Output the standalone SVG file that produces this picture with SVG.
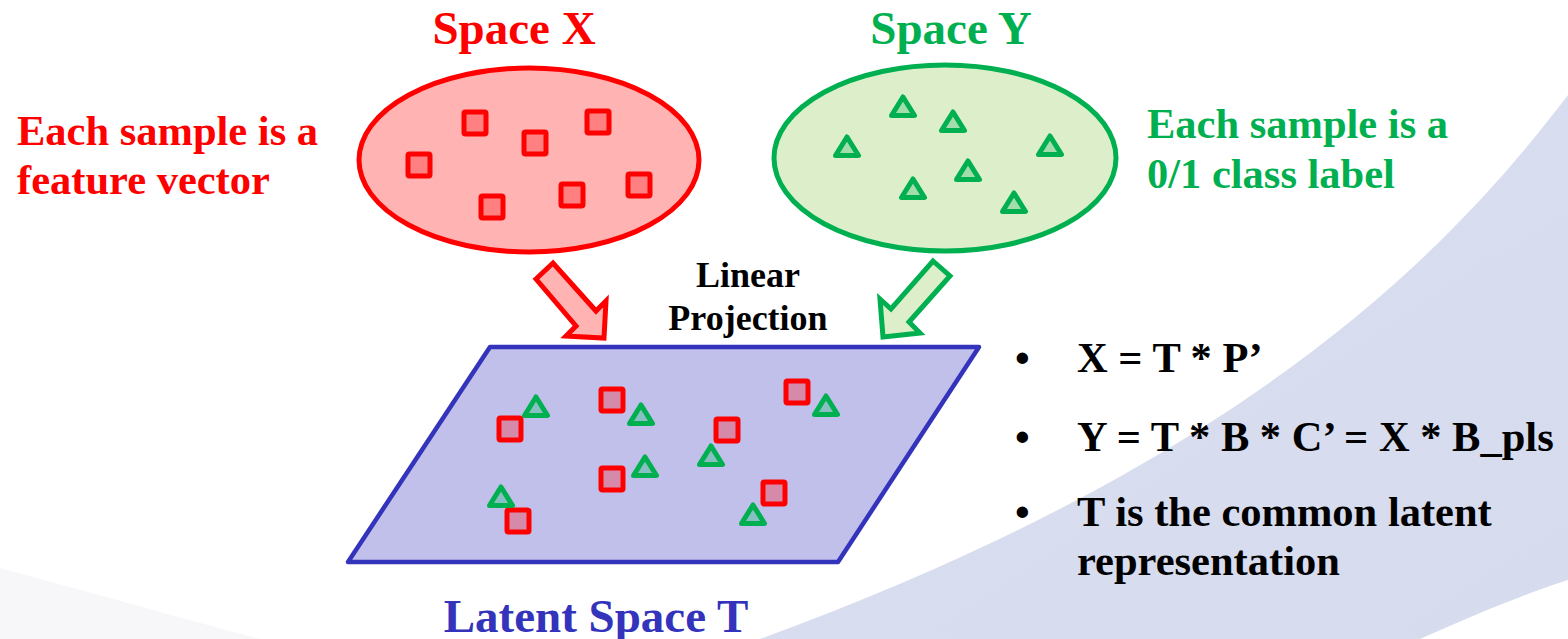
<svg xmlns="http://www.w3.org/2000/svg" xmlns:xlink="http://www.w3.org/1999/xlink" width="1568" height="639" viewBox="0 0 1568 639">
  <style>
    .t { font-family: "Liberation Serif", "Times New Roman", serif; font-weight: bold; }
    .red { fill: #FF0000; }
    .green { fill: #00B050; }
    .black { fill: #000000; }
    .blue { fill: #3333BB; }
    .sqX { fill: #FF8080; stroke: #FF0000; stroke-width: 5; stroke-linejoin: round; }
    .triY { fill: #A2DDAB; stroke: #00B050; stroke-width: 5; stroke-linejoin: round; }
    .sqT { fill: #D48AA8; stroke: #FF0000; stroke-width: 5; stroke-linejoin: round; }
    .triT { fill: #88BFC2; stroke: #00B050; stroke-width: 5; stroke-linejoin: round; }
  </style>
  <defs>
    <rect id="sq" x="-11" y="-11" width="22" height="22" rx="1.5"/>
    <polygon id="tri" points="0,-10.5 11.5,8 -11.5,8"/>
    <linearGradient id="swooshFill" x1="0" y1="0" x2="1" y2="1">
      <stop offset="0" stop-color="#D9DEEF"/>
      <stop offset="1" stop-color="#D6DBEE"/>
    </linearGradient>
  </defs>

  <!-- page background -->
  <rect width="1568" height="639" fill="#FFFFFF"/>
  <path d="M1568,95 C1450,250 1250,460 760,639 L1420,639 C1480,612 1530,592 1568,580 Z" fill="url(#swooshFill)"/>
  <path d="M0,568 C90,592 180,618 260,639 L0,639 Z" fill="#F7F7F9"/>

  <!-- Space X -->
  <g id="space-x">
    <ellipse cx="529" cy="160" rx="170" ry="92" fill="#FFB3B3" stroke="#FF0000" stroke-width="5"/>
    <use href="#sq" class="sqX" transform="translate(475,123)"/>
    <use href="#sq" class="sqX" transform="translate(535,143)"/>
    <use href="#sq" class="sqX" transform="translate(598,122)"/>
    <use href="#sq" class="sqX" transform="translate(419,165)"/>
    <use href="#sq" class="sqX" transform="translate(492,207)"/>
    <use href="#sq" class="sqX" transform="translate(572,195)"/>
    <use href="#sq" class="sqX" transform="translate(639,185)"/>
    <text class="t red" x="514" y="44" font-size="47" text-anchor="middle">Space X</text>
    <text class="t red" x="17" y="145" font-size="42.5">Each sample is a</text>
    <text class="t red" x="17" y="194" font-size="42.5">feature vector</text>
  </g>

  <!-- Space Y -->
  <g id="space-y">
    <ellipse cx="945" cy="158" rx="171" ry="93" fill="#DDEFCA" stroke="#00B050" stroke-width="5"/>
    <use href="#tri" class="triY" transform="translate(903,107.5)"/>
    <use href="#tri" class="triY" transform="translate(953,122.5)"/>
    <use href="#tri" class="triY" transform="translate(847,147.5)"/>
    <use href="#tri" class="triY" transform="translate(1050,146.5)"/>
    <use href="#tri" class="triY" transform="translate(968,171.5)"/>
    <use href="#tri" class="triY" transform="translate(913,189.5)"/>
    <use href="#tri" class="triY" transform="translate(1014,203.5)"/>
    <text class="t green" x="951" y="44" font-size="47" text-anchor="middle">Space Y</text>
    <text class="t green" x="1147" y="138" font-size="42.5">Each sample is a</text>
    <text class="t green" x="1147" y="188" font-size="42.5">0/1 class label</text>
  </g>

  <!-- projection arrows -->
  <g id="connectors">
    <polygon points="536,279 553,263 596,311 606,301 604,338 566,336 576,326" fill="#FFB3B3" stroke="#FF0000" stroke-width="5" stroke-linejoin="miter"/>
    <polygon points="933,261 950,276 909,322 920,333 883,337 880,299 891,309" fill="#DDEFCA" stroke="#00B050" stroke-width="5" stroke-linejoin="miter"/>
    <text class="t black" x="748" y="287" font-size="36" text-anchor="middle">Linear</text>
    <text class="t black" x="748" y="330" font-size="36" text-anchor="middle">Projection</text>
  </g>

  <!-- Latent space T -->
  <g id="latent-t">
    <polygon points="490,347 979,347 838,562 348,562" fill="#C0C0EA" stroke="#3333BB" stroke-width="4.5" stroke-linejoin="round"/>
    <use href="#sq" class="sqT" transform="translate(612,400)"/>
    <use href="#sq" class="sqT" transform="translate(510,429)"/>
    <use href="#sq" class="sqT" transform="translate(612,479)"/>
    <use href="#sq" class="sqT" transform="translate(518,521)"/>
    <use href="#sq" class="sqT" transform="translate(797,392)"/>
    <use href="#sq" class="sqT" transform="translate(727,430)"/>
    <use href="#sq" class="sqT" transform="translate(774,493)"/>
    <use href="#tri" class="triT" transform="translate(536,407.5)"/>
    <use href="#tri" class="triT" transform="translate(641,415.5)"/>
    <use href="#tri" class="triT" transform="translate(645,467.5)"/>
    <use href="#tri" class="triT" transform="translate(501,497.5)"/>
    <use href="#tri" class="triT" transform="translate(826,406.5)"/>
    <use href="#tri" class="triT" transform="translate(711,456.5)"/>
    <use href="#tri" class="triT" transform="translate(753,515.5)"/>
    <text class="t blue" x="596" y="632" font-size="47" text-anchor="middle">Latent Space T</text>
  </g>

  <!-- equations -->
  <g id="equations">
    <text class="t black" x="1015" y="372" font-size="42">•</text>
    <text class="t black" x="1077" y="372" font-size="42.5">X = T * P’</text>
    <text class="t black" x="1015" y="451" font-size="42">•</text>
    <text class="t black" x="1077" y="451" font-size="42.5">Y = T * B * C’ = X * B_pls</text>
    <text class="t black" x="1015" y="526" font-size="42">•</text>
    <text class="t black" x="1077" y="526" font-size="42.5">T is the common latent</text>
    <text class="t black" x="1077" y="575" font-size="42.5">representation</text>
  </g>
</svg>
